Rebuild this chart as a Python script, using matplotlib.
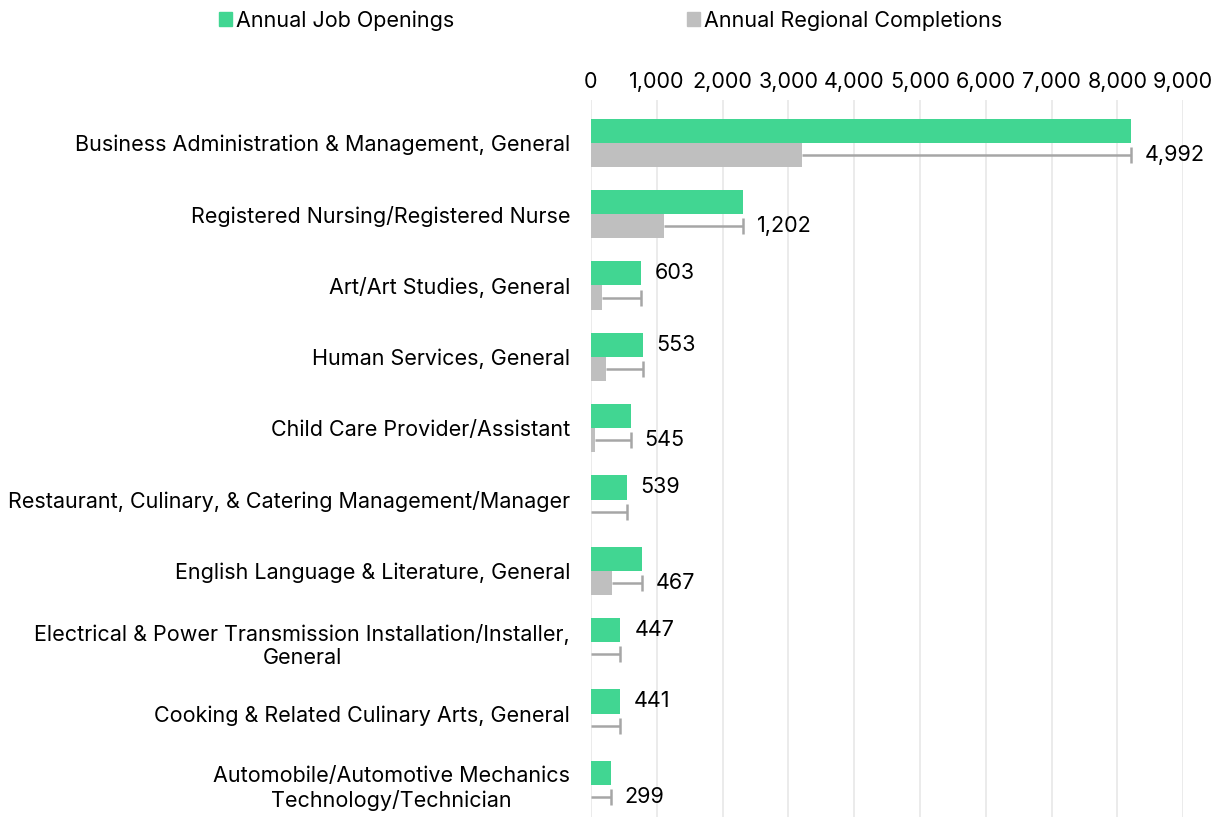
import matplotlib.pyplot as plt
from matplotlib.patches import Patch
import numpy as np

# Datos
programs = [
    "Business Administration & Management, General",
    "Registered Nursing/Registered Nurse",
    "Art/Art Studies, General",
    "Human Services, General",
    "Child Care Provider/Assistant",
    "Restaurant, Culinary, & Catering Management/Manager",
    "English Language & Literature, General",
    "Electrical & Power Transmission Installation/Installer,\nGeneral",
    "Cooking & Related Culinary Arts, General",
    "Automobile/Automotive Mechanics\nTechnology/Technician",
]
job_openings = [8200, 2310, 765, 787, 601, 541, 781, 447, 441, 299]
completions = [3208, 1108, 162, 234, 56, 2, 314, 0, 0, 0]
gap_labels = ["4,992", "1,202", "603", "553", "545", "539", "467", "447", "441", "299"]
label_on_gray = [True, True, False, False, True, False, True, False, False, True]

green = "#41d692"
gray = "#bfbfbf"
err_color = "#a6a6a6"
fs = 15.5

plt.rcParams['font.family'] = ['Inter', 'DejaVu Sans']

fig = plt.figure(figsize=(12.21, 8.17), dpi=100)
ax = fig.add_axes([0.484, 0.0, 0.485, 0.8776])

y = np.arange(len(programs))
h = 0.34
openings = np.array(job_openings)
comps = np.array(completions)

ax.barh(y - h / 2, openings, height=h, color=green, zorder=2)
ax.barh(y + h / 2, comps, height=h, color=gray, zorder=2)

# barra de error: desde completions hasta job openings (solo tapa final)
gap = openings - comps
eb = ax.errorbar(comps, y + h / 2, xerr=[np.zeros_like(gap), gap], fmt='none',
                 ecolor=err_color, elinewidth=1.8, capsize=6, capthick=1.8, zorder=3)
eb[1][0].set_visible(False)

for i in range(len(programs)):
    yy = y[i] + h / 2 if label_on_gray[i] else y[i] - h / 2
    ax.annotate(gap_labels[i], (openings[i], yy), xytext=(10, 0),
                textcoords='offset points', va='center', ha='left', fontsize=fs)

ax.set_xlim(0, 9000)
ax.set_ylim(len(programs) - 0.55, -0.6)
ax.set_xticks(range(0, 9001, 1000))
ax.set_xticklabels([f"{v:,}" for v in range(0, 9001, 1000)])
ax.xaxis.tick_top()
ax.set_yticks(y)
ax.set_yticklabels(programs)
for t in ax.get_yticklabels():
    t.set_multialignment('center')
ax.tick_params(axis='x', length=0, pad=6, labelsize=fs)
ax.tick_params(axis='y', length=0, pad=15, labelsize=fs)
ax.grid(axis='x', color='#e8e8e8', linewidth=1.2, zorder=0)
for s in ax.spines.values():
    s.set_visible(False)

handles = [Patch(color=green, label="Annual Job Openings"),
           Patch(color=gray, label="Annual Regional Completions")]
fig.legend(handles=handles, loc='center', bbox_to_anchor=(0.5, 0.975), ncol=2,
           frameon=False, fontsize=fs, handlelength=0.6, handleheight=0.6,
           handletextpad=0.2, columnspacing=10.8)

fig.savefig("out.png", dpi=100)
